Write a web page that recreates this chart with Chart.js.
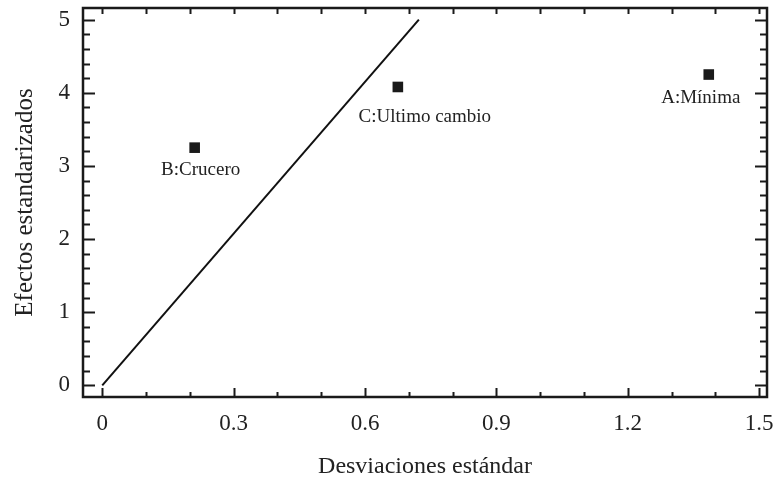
<!DOCTYPE html>
<html>
<head>
<meta charset="utf-8">
<script src="https://cdn.jsdelivr.net/npm/chart.js@4"></script>
<style>
  html, body { margin: 0; padding: 0; background: #fff; }
  #wrap { width: 779px; height: 481px; }
</style>
</head>
<body>
<div id="wrap"><canvas id="myChart" width="779" height="481"></canvas></div>
<script>
// effects (points)
var effectNames = ['A:Mínima', 'B:Crucero', 'C:Ultimo cambio']
var effectX = [1.385, 0.211, 0.675]
var effectY = [4.25, 3.25, 4.08]

// reference line
var lineX = [0, 0.723]
var lineY = [0, 5.0]

var xTicks = [0, 0.3, 0.6, 0.9, 1.2, 1.5]
var yTicks = [0, 1, 2, 3, 4, 5]

var serif = "'Liberation Serif', 'Times New Roman', serif"
var ink = '#1a1a1a'

// label offsets from each point (px)
var labelOffsets = [[-8, 23], [6, 22], [27, 30]]

function noPad(s) {
    s.paddingTop = 0
    s.paddingBottom = 0
    s.paddingLeft = 0
    s.paddingRight = 0
}

var framePlugin = {
    id: 'frame',
    afterDraw: function(chart) {
        var ctx = chart.ctx
        var a = chart.chartArea
        var xs = chart.scales.x
        var ys = chart.scales.y
        ctx.save()
        ctx.strokeStyle = ink
        ctx.lineCap = 'butt'

        // ticks
        ctx.lineWidth = 2
        ctx.beginPath()
        for (var i = 0; i <= 15; i++) {
            var v = i / 10
            var px = Math.round(xs.getPixelForValue(v)) + 0.5
            var major = i % 3 === 0
            ctx.moveTo(px, a.bottom)
            ctx.lineTo(px, a.bottom - (major ? 9 : 5))
            ctx.moveTo(px, a.top)
            ctx.lineTo(px, a.top + 6)
        }
        for (var j = 0; j <= 25; j++) {
            var yv = j / 5
            var py = Math.round(ys.getPixelForValue(yv)) + 0.5
            var big = j % 5 === 0
            var len = big ? 12 : 7
            ctx.moveTo(a.left, py)
            ctx.lineTo(a.left + len, py)
            ctx.moveTo(a.right, py)
            ctx.lineTo(a.right - len, py)
        }
        ctx.stroke()

        // frame
        ctx.lineWidth = 2.5
        ctx.strokeRect(a.left, a.top, a.right - a.left, a.bottom - a.top)
        ctx.restore()
    }
}

var labelPlugin = {
    id: 'pointLabels',
    afterDatasetsDraw: function(chart) {
        var ctx = chart.ctx
        var meta = chart.getDatasetMeta(1)
        ctx.save()
        ctx.font = '19px ' + serif
        ctx.fillStyle = '#222'
        ctx.textAlign = 'center'
        ctx.textBaseline = 'middle'
        meta.data.forEach(function(el, i) {
            var off = labelOffsets[i]
            ctx.fillText(effectNames[i], el.x + off[0], el.y + off[1])
        })
        ctx.restore()
    }
}

var ctx = document.getElementById('myChart')

var myChart = new Chart(ctx, {
    type: 'scatter',
    data: {
        datasets: [
            {
                type: 'line',
                label: 'linea',
                data: lineX.map(function(x, i) { return {x: x, y: lineY[i]} }),
                borderColor: '#111',
                borderWidth: 2,
                pointRadius: 0,
                fill: false
            },
            {
                label: 'efectos',
                data: effectX.map(function(x, i) { return {x: x, y: effectY[i]} }),
                pointStyle: 'rect',
                pointRadius: 7.5,
                backgroundColor: ink,
                borderColor: ink,
                borderWidth: 0
            }
        ]
    },
    options: {
        responsive: false,
        animation: false,
        layout: { padding: { top: 8, right: 12, left: 0, bottom: 0 } },
        plugins: {
            legend: { display: false },
            tooltip: { enabled: false }
        },
        scales: {
            x: {
                type: 'linear',
                min: -0.044,
                max: 1.518,
                grid: { display: false, drawTicks: false },
                border: { display: false },
                afterBuildTicks: function(s) { s.ticks = xTicks.map(function(v) { return {value: v} }) },
                afterFit: function(s) { s.height = 84; noPad(s) },
                ticks: {
                    padding: 13,
                    color: '#222',
                    font: { family: serif, size: 23 },
                    callback: function(v) { return String(Math.round(v * 10) / 10) }
                },
                title: {
                    display: true,
                    text: 'Desviaciones estándar',
                    color: '#222',
                    font: { family: serif, size: 24 },
                    padding: { top: 0, bottom: 0 }
                }
            },
            y: {
                type: 'linear',
                min: -0.16,
                max: 5.16,
                grid: { display: false, drawTicks: false },
                border: { display: false },
                afterBuildTicks: function(s) { s.ticks = yTicks.map(function(v) { return {value: v} }) },
                afterFit: function(s) { s.width = 83; noPad(s) },
                ticks: {
                    padding: 13,
                    color: '#222',
                    font: { family: serif, size: 23 }
                },
                title: {
                    display: true,
                    text: 'Efectos estandarizados',
                    color: '#222',
                    font: { family: serif, size: 25 },
                    padding: { top: 10, bottom: 0 }
                }
            }
        }
    },
    plugins: [framePlugin, labelPlugin]
})
</script>
</body>
</html>
